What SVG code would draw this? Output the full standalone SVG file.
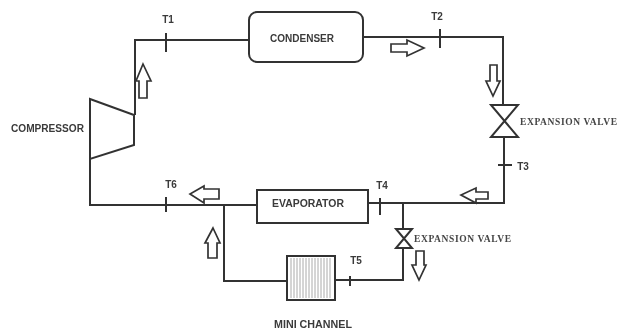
<svg xmlns="http://www.w3.org/2000/svg" width="617" height="331" viewBox="0 0 617 331">
<style>
.l{fill:none;stroke:#333;stroke-width:2}
.n{fill:#fff;stroke:#333;stroke-width:2}
.a{fill:#fff;stroke:#333;stroke-width:1.7;stroke-linejoin:miter}
.t{font-family:"Liberation Sans",Arial,sans-serif;font-size:10px;font-weight:bold;fill:#3a3a3a}
.m{text-anchor:middle}
.s{font-family:"Liberation Serif","Times New Roman",serif;font-size:9.5px;font-weight:bold;fill:#444}
</style>
<defs><filter id="b" x="-5%" y="-5%" width="110%" height="110%"><feGaussianBlur stdDeviation="0.45"/></filter></defs>
<rect width="617" height="331" fill="#fff"/>
<g filter="url(#b)">
<g id="connectors">
<path class="l" d="M135 115V40H249"/>
<path class="l" d="M363 37H503V105"/>
<path class="l" d="M504 137V203H368"/>
<path class="l" d="M90 159V205H257"/>
<path class="l" d="M224 205V281H287"/>
<path class="l" d="M403 204V229M403 248V280H335"/>
<path class="a" d="M143 64L151 81H147V98H139V81H136Z"/>
<path class="a" d="M391 44H407V40L424 48L407 56V52H391Z"/>
<path class="a" d="M490 65H497V81H500L493 96L486 81H490Z"/>
<path class="a" d="M219 189V199H204V203L190 194L204 186V189Z"/>
<path class="a" d="M213 228L220 243H217V258H208V243H205Z"/>
<path class="a" d="M488 192V199H476V203L461 195L476 188V192Z"/>
<path class="a" d="M416 251H424V265H426L419 280L412 265H416Z"/>
</g>
<g id="compressor"><path class="n" d="M90 99L134 115V145L90 159Z"/><text class="t" x="11" y="132" textLength="73" lengthAdjust="spacingAndGlyphs">COMPRESSOR</text></g>
<g id="condenser"><rect class="n" x="249" y="12" width="114" height="50" rx="8"/><text class="t" x="270" y="42" textLength="64" lengthAdjust="spacingAndGlyphs">CONDENSER</text></g>
<g id="evaporator"><rect class="n" x="257" y="190" width="111" height="33"/><text class="t" x="272" y="207" textLength="72" lengthAdjust="spacingAndGlyphs">EVAPORATOR</text></g>
<g id="expansion-valve-1"><path class="l" d="M491 105H518L491 137H518Z"/><text class="s" x="520" y="125" textLength="97">EXPANSION VALVE</text></g>
<g id="expansion-valve-2"><path class="l" d="M396 229H412L396 248H412Z"/><text class="s" x="414" y="242" textLength="97">EXPANSION VALVE</text></g>
<g id="mini-channel"><rect class="n" x="287" y="256" width="48" height="44"/>
<path d="M291 258V298M294 258V298M297 258V298M300 258V298M303 258V298M306 258V298M309 258V298M312 258V298M315 258V298M318 258V298M321 258V298M324 258V298M327 258V298M330 258V298" stroke="#aaa" stroke-width="1"/>
<text class="t" x="274" y="328" textLength="78" lengthAdjust="spacingAndGlyphs">MINI CHANNEL</text></g>
<g id="T1"><path class="l" d="M166 33V52"/><text class="t m" x="168" y="23">T1</text></g>
<g id="T2"><path class="l" d="M440 29V48"/><text class="t m" x="437" y="20">T2</text></g>
<g id="T3"><path class="l" d="M498 165H512"/><text class="t m" x="523" y="170">T3</text></g>
<g id="T4"><path class="l" d="M380 198V215"/><text class="t m" x="382" y="189">T4</text></g>
<g id="T5"><path class="l" d="M350 276V286"/><text class="t m" x="356" y="264">T5</text></g>
<g id="T6"><path class="l" d="M166 197V212"/><text class="t m" x="171" y="188">T6</text></g>
</g>
</svg>
